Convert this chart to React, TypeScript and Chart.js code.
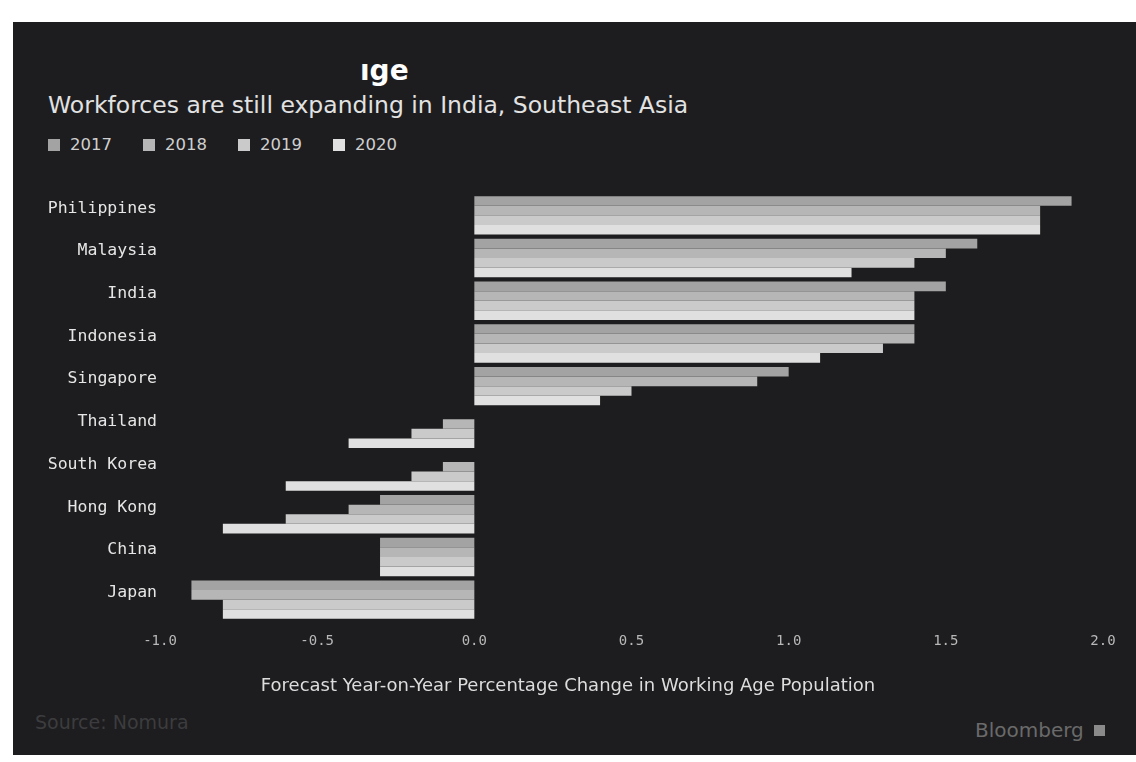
import React, { useEffect, useRef } from "react";
import { Chart, registerables } from "chart.js";

Chart.register(...registerables);

const countries = [
  "Philippines",
  "Malaysia",
  "India",
  "Indonesia",
  "Singapore",
  "Thailand",
  "South Korea",
  "Hong Kong",
  "China",
  "Japan",
];
const years = ["2017", "2018", "2019", "2020"];
const values2017 = [1.9, 1.6, 1.5, 1.4, 1.0, 0, 0, -0.3, -0.3, -0.9];
const values2018 = [1.8, 1.5, 1.4, 1.4, 0.9, -0.1, -0.1, -0.4, -0.3, -0.9];
const values2019 = [1.8, 1.4, 1.4, 1.3, 0.5, -0.2, -0.2, -0.6, -0.3, -0.8];
const values2020 = [1.8, 1.2, 1.4, 1.1, 0.4, -0.4, -0.6, -0.8, -0.3, -0.8];
const seriesColors = ["#a3a3a3", "#b6b6b6", "#cacaca", "#e0e0e0"];
const xTickLabels = ["-1.0", "-0.5", "0.0", "0.5", "1.0", "1.5", "2.0"];

const titleText = "ıge";
const subtitleText = "Workforces are still expanding in India, Southeast Asia";
const xAxisTitle = "Forecast Year-on-Year Percentage Change in Working Age Population";
const sourceText = "Source: Nomura";
const brandText = "Bloomberg";

export default function App() {
  const canvasRef = useRef<HTMLCanvasElement | null>(null);

  useEffect(() => {
    const prevMargin = document.body.style.margin;
    document.body.style.margin = "0";
    const canvas = canvasRef.current;
    if (!canvas) return;
    const seriesValues = [values2017, values2018, values2019, values2020];
    const chart = new Chart(canvas, {
      type: "bar",
      data: {
        labels: countries,
        datasets: years.map((y, i) => ({
          label: y,
          data: seriesValues[i],
          backgroundColor: seriesColors[i],
          borderWidth: 0,
          barPercentage: 1.0,
          categoryPercentage: 0.9,
        })),
      },
      options: {
        indexAxis: "y",
        animation: false,
        responsive: false,
        maintainAspectRatio: false,
        layout: { padding: { top: 14, right: 33, left: 0, bottom: 0 } },
        plugins: {
          legend: { display: false },
          tooltip: { enabled: false },
          title: { display: false },
        },
        scales: {
          y: {
            type: "category",
            grid: { display: false, drawTicks: false },
            border: { display: false },
            ticks: {
              color: "#e6e6e6",
              font: { family: "'DejaVu Sans Mono', monospace", size: 16.5 },
              padding: 3,
              labelOffset: -7,
            },
            afterFit: (s: any) => {
              s.width = 160;
            },
          },
          x: {
            type: "linear",
            min: -1,
            max: 2,
            grid: { display: false, drawTicks: false },
            border: { display: false },
            ticks: {
              stepSize: 0.5,
              color: "#b8b8b8",
              font: { family: "'DejaVu Sans Mono', monospace", size: 14 },
              padding: 12,
              maxRotation: 0,
              callback: (_v: any, i: number) => xTickLabels[i],
            },
            title: { display: false },
            afterFit: (s: any) => {
              s.height = 79;
            },
          },
        },
      },
    });
    return () => {
      chart.destroy();
      document.body.style.margin = prevMargin;
    };
  }, []);

  return (
    <div
      style={{
        position: "fixed",
        left: 0,
        top: 0,
        width: 1136,
        height: 762,
        background: "#ffffff",
        overflow: "hidden",
        fontFamily: "'DejaVu Sans', sans-serif",
      }}
    >
      <div
        style={{
          position: "absolute",
          left: 13,
          top: 22,
          width: 1123,
          height: 733,
          background: "#1d1d1f",
        }}
      />
      <div
        style={{
          position: "absolute",
          left: 360,
          top: 55,
          color: "#ffffff",
          fontWeight: "bold",
          fontSize: 28,
          lineHeight: "32px",
        }}
      >
        {titleText}
      </div>
      <div
        style={{
          position: "absolute",
          left: 48,
          top: 90,
          color: "#e2e2e2",
          fontSize: 23.5,
          lineHeight: "30px",
          whiteSpace: "nowrap",
        }}
      >
        {subtitleText}
      </div>
      <div
        style={{
          position: "absolute",
          left: 48,
          top: 136,
          display: "flex",
          flexDirection: "row",
        }}
      >
        {years.map((y, i) => (
          <div
            key={y}
            style={{ width: 95, display: "flex", alignItems: "center" }}
          >
            <span
              style={{
                display: "inline-block",
                width: 12,
                height: 12,
                background: seriesColors[i],
                marginRight: 10,
              }}
            />
            <span style={{ color: "#cfcfcf", fontSize: 16.5, lineHeight: "18px" }}>{y}</span>
          </div>
        ))}
      </div>
      <canvas
        ref={canvasRef}
        width={1136}
        height={520}
        style={{ position: "absolute", left: 0, top: 180, width: 1136, height: 520 }}
      />
      <div
        style={{
          position: "absolute",
          left: 258,
          top: 674,
          width: 620,
          textAlign: "center",
          color: "#dddddd",
          fontSize: 18,
          lineHeight: "22px",
          whiteSpace: "nowrap",
        }}
      >
        {xAxisTitle}
      </div>
      <div
        style={{
          position: "absolute",
          left: 35,
          top: 710,
          color: "#3c3c3e",
          fontSize: 19,
          lineHeight: "24px",
        }}
      >
        {sourceText}
      </div>
      <div
        style={{
          position: "absolute",
          left: 975,
          top: 718,
          color: "#6a6a6a",
          fontSize: 20,
          lineHeight: "24px",
          display: "flex",
          alignItems: "center",
        }}
      >
        <span>{brandText}</span>
        <span
          style={{
            display: "inline-block",
            width: 11,
            height: 11,
            marginLeft: 10,
            background: "#8a8a8a",
          }}
        />
      </div>
    </div>
  );
}
